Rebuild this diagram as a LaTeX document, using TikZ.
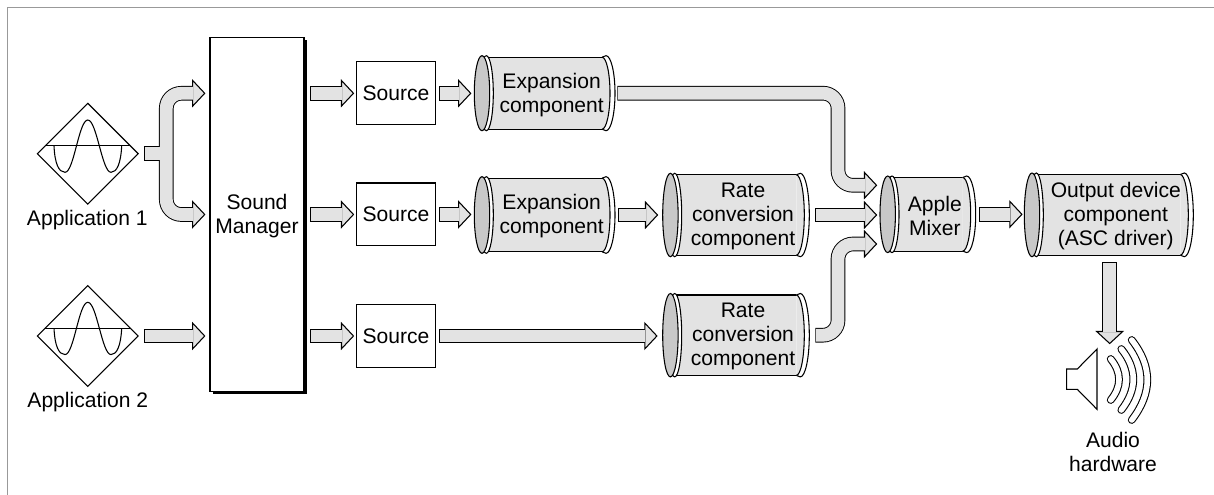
\documentclass[tikz,border=0pt]{standalone}
\usepackage{fontspec}
\setmainfont{Liberation Sans}
\usetikzlibrary{shapes.geometric,calc}
\definecolor{fatgray}{HTML}{E3E3E3}
\definecolor{capgray}{HTML}{C8C8C8}
\definecolor{framegray}{HTML}{999999}
\tikzset{
  lbl/.style={font=\fontsize{15.8}{18}\selectfont,align=center,inner sep=0pt,outer sep=0pt},
  ln/.style={draw=black,line width=.8pt},
  boxnode/.style={lbl,ln,fill=white,rectangle},
  fatout/.style={draw=black,line width=11pt,rounded corners=11.25pt,shorten >=9.6pt},
  fatin/.style={draw=fatgray,line width=9.6pt,rounded corners=11.25pt,shorten >=9.2pt,shorten <=.7pt},
  fatinboth/.style={draw=fatgray,line width=9.6pt,rounded corners=11.25pt,shorten >=9.2pt,shorten <=9.2pt},
  fatoutboth/.style={draw=black,line width=11pt,rounded corners=11.25pt,shorten >=9.6pt,shorten <=9.6pt},
  fatstub/.style={draw=black,line width=11pt},
  fatinstub/.style={draw=fatgray,line width=9.6pt,shorten <=.7pt},
  headshape/.style={ln,fill=fatgray,line join=miter},
  wavebar/.style={line cap=round,line width=5.8pt,draw=black},
  wavebarin/.style={line cap=round,line width=4.2pt,draw=white},
}
% head pointing right, tip at a coordinate
\newcommand\headr[1]{\path #1 coordinate (tipc);
  \draw[headshape] ([shift={(-12.8,-12.8)}]tipc) -- ([shift={(-.8,0)}]tipc) -- ([shift={(-12.8,12.8)}]tipc) -- cycle;}
% head pointing down
\newcommand\headd[1]{\path #1 coordinate (tipc);
  \draw[headshape] ([shift={(-13,-12.8)}]tipc) -- ([shift={(0,-.8)}]tipc) -- ([shift={(13,-12.8)}]tipc) -- cycle;}
% path up to the last point, last point
\newcommand\fat[2]{\draw[fatout] #1 -- #2; \headr{#2} \draw[fatin] #1 -- #2;}
\newcommand\fatd[2]{\draw[fatout] #1 -- #2; \headd{#2} \draw[fatin] #1 -- #2;}
% name, x left, x right, y top, y bottom, text
\newcommand\cyl[6]{%
  \pgfmathsetmacro\cy{(#4+#5)/2}%
  \pgfmathsetmacro\ry{(#5-#4)/2}%
  \pgfmathsetmacro\tx{(#2+#3+14)/2}%
  \pgfmathsetmacro\ty{\cy+1.5}%
  \pgfmathsetmacro\bl{#2+12}%
  \pgfmathsetmacro\br{#3-13}%
  \pgfmathsetmacro\ro{#3-9}%
  \pgfmathsetmacro\tb{#4+1.5}%
  \pgfmathsetmacro\bb{#5-1.5}%
  \pgfmathsetmacro\lc{#2+7.7}%
  \pgfmathsetmacro\ryi{\ry-1.5}%
  \fill[fatgray] (\bl,\tb) rectangle (\br,\bb);
  \draw[ln] (\bl,\tb) -- (\br,\tb) (\bl,\bb) -- (\br,\bb);
  \filldraw[ln,fill=white] (\br,\tb) -- (\ro,#4) arc[start angle=-90,end angle=90,x radius=9,y radius=\ry] -- (\br,\bb);
  \filldraw[ln,fill=fatgray] (\br,\tb) arc[start angle=-90,end angle=90,x radius=8,y radius=\ryi];
  \filldraw[ln,fill=white] (\bl,\cy) ellipse[x radius=7,y radius=\ry];
  \filldraw[ln,fill=capgray] (\lc,\cy) ellipse[x radius=7.7,y radius=\ry];
  \node[lbl] (#1) at (\tx,\ty) {#6};
  \coordinate (#1-w) at (#2,\cy);
  \coordinate (#1-e) at (#3,\cy);
  \coordinate (#1-s) at (\tx,#5);
}
% name, centre y
\newcommand\appicon[2]{%
  \node[diamond,aspect=1,ln,minimum width=75.6pt,minimum height=75.6pt,inner sep=0pt,outer sep=0pt] (#1) at (87.8,#2) {};
  \begin{scope}[shift={(87.8,#2)}]
    \draw[ln] (-43,-7.9) -- (42.5,-7.9);
    \draw[ln] (-33.8,-7.9) .. controls (-33,10) and (-29,18.6) .. (-22.8,18.6)
      .. controls (-13.8,18.6) and (-9,-33.7) .. (0,-33.7)
      .. controls (9,-33.7) and (14.2,18.6) .. (23.2,18.6)
      .. controls (29,18.6) and (33,10) .. (33.9,-7.9);
  \end{scope}
}
\begin{document}
\begin{tikzpicture}[x=.75pt,y=-.75pt]
\useasboundingbox (0,0) rectangle (1214,495);
\fill[white] (0,0) rectangle (1214,495);
\draw[framegray,line width=1.1pt] (7.5,495) -- (7.5,7.5) -- (1214,7.5);

% applications
\appicon{app1}{153.7}
\appicon{app2}{336}
\node[lbl,anchor=base] (lab1) at (87.3,226) {Application 1};
\node[lbl,anchor=base] (lab2) at (87.8,407) {Application 2};

% sound manager
\fill[black] (213,40) rectangle (306.6,394.4);
\node[boxnode,minimum width=70.5pt,minimum height=265.8pt,text depth=0pt] (sm) at (257,214.5) {};
\node[lbl] (smtext) at (257,216.5) {Sound\\Manager};

% sources
\node[boxnode,minimum width=59.6pt,minimum height=47.2pt] (src1) at (396,93.3) {Source};
\node[boxnode,minimum width=59.6pt,minimum height=47.2pt] (src2) at (396,214.5) {Source};
\node[boxnode,minimum width=59.6pt,minimum height=47.2pt] (src3) at (396,336) {Source};

% cylinders
\cyl{exp1}{474.3}{615}{55.7}{130.7}{Expansion\\component}
\cyl{exp2}{474.3}{615}{176.7}{253.3}{Expansion\\component}
\cyl{rate1}{662.7}{809.3}{173.3}{256.7}{Rate\\conversion\\component}
\cyl{rate2}{662.7}{809.3}{293.5}{376.9}{Rate\\conversion\\component}
\cyl{mix}{880}{975.7}{176}{252.6}{Apple\\Mixer}
\cyl{out}{1024.3}{1193.3}{173}{256.7}{Output device\\component\\(ASC driver)}

\coordinate (bus) at (838,214.5);
\coordinate (tbus) at (166.3,153.7);
\coordinate (spk) at (1109.7,344.3);

% forked arrow from application 1
\draw[fatstub] ([shift={(5.7,0)}]app1.east) -- (tbus);
\draw[fatoutboth] ([shift={(-4.5,0)}]sm.west |- src1.west) -- (tbus |- src1.west) -- (tbus |- src2.west) -- ([shift={(-4.5,0)}]sm.west |- src2.west);
\headr{([shift={(-4.5,0)}]sm.west |- src1.west)}
\headr{([shift={(-4.5,0)}]sm.west |- src2.west)}
\draw[fatinstub] ([shift={(5.7,0)}]app1.east) -- (tbus);
\draw[fatinboth] ([shift={(-4.5,0)}]sm.west |- src1.west) -- (tbus |- src1.west) -- (tbus |- src2.west) -- ([shift={(-4.5,0)}]sm.west |- src2.west);

% straight arrows
\fat{([shift={(5.7,0)}]app2.east)}{([shift={(-4.5,0)}]sm.west |- app2.east)}
\fat{([shift={(6,0)}]sm.east |- src1.west)}{([shift={(-2,0)}]src1.west)}
\fat{([shift={(6,0)}]sm.east |- src2.west)}{([shift={(-2,0)}]src2.west)}
\fat{([shift={(6,0)}]sm.east |- src3.west)}{([shift={(-2,0)}]src3.west)}
\fat{([shift={(3.6,0)}]src1.east)}{([shift={(-2.8,0)}]exp1-w |- src1.east)}
\fat{([shift={(3.6,0)}]src2.east)}{([shift={(-2.8,0)}]exp2-w |- src2.east)}
\fat{([shift={(3.6,0)}]src3.east)}{([shift={(-5,0)}]rate2-w |- src3.east)}
\fat{([shift={(3.3,0)}]exp2-e)}{([shift={(-4.4,0)}]rate1-w |- exp2-e)}
\fat{([shift={(6,0)}]rate1-e)}{([shift={(-2.7,0)}]mix-w |- rate1-e)}
\fat{([shift={(3.3,0)}]mix-e)}{([shift={(-1.6,0)}]out-w |- mix-e)}
\fat{([shift={(2.3,0)}]exp1-e) -- (bus |- exp1-e) -- ([shift={(0,-29)}]bus |- mix-w)}{([shift={(-2.7,-29)}]mix-w)}
\fat{([shift={(6,0)}]rate2-e) -- (bus |- rate2-e) -- ([shift={(0,29.7)}]bus |- mix-w)}{([shift={(-2.7,29.7)}]mix-w)}
\fatd{([shift={(0,5.6)}]spk |- out-s)}{(spk)}

% speaker
\draw[ln,fill=white,line join=miter] (1066.7,369) -- (1077.3,369) -- (1097,349) -- (1097,409.3) -- (1077.3,389.3) -- (1066.7,389.3) -- cycle;
\foreach \e/\c/\ya/\yb/\yc/\yd in {1110.7/1121.8/359/372.5/386.5/400, 1121.3/1137.3/349/369/389.5/410, 1131.7/1152.5/340/366.5/393/420}{
  \draw[wavebar] (\e,\ya) .. controls (\c,\yb) and (\c,\yc) .. (\e,\yd);
  \draw[wavebarin] (\e,\ya) .. controls (\c,\yb) and (\c,\yc) .. (\e,\yd);
}
\node[lbl] (audio) at (1113,452) {Audio\\hardware};
\end{tikzpicture}
\end{document}
